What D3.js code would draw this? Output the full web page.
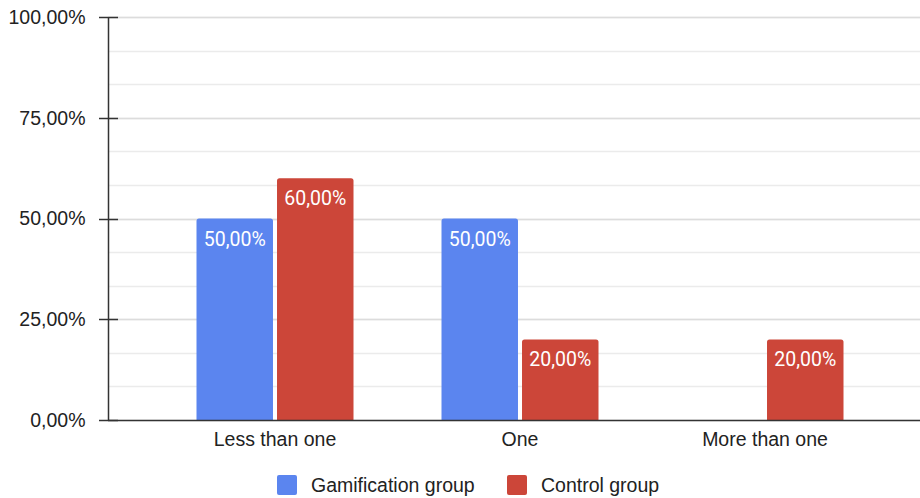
<!DOCTYPE html>
<html>
<head>
<meta charset="utf-8">
<script src="https://cdn.jsdelivr.net/npm/d3@7"></script>
<style>
  html, body { margin: 0; padding: 0; background: #fff; }
  svg { display: block; }
</style>
</head>
<body>
<svg id="chart" width="920" height="498"></svg>
<script>
const categories = ["Less than one", "One", "More than one"];
const seriesNames = ["Gamification group", "Control group"];
const gamification = [50, 50, 0];
const control = [60, 20, 20];
const yTicks = [0, 25, 50, 75, 100];
const colors = ["#5b85ef", "#cc4639"];

const svg = d3.select("#chart");
const axisFont = "'Liberation Sans', Arial, sans-serif";
const labelFont = "Roboto, 'Open Sans', sans-serif";
const fs = 19.5;

const x0 = d3.scaleBand().domain(categories).range([152.5, 887.5]).padding(0);
const groupInner = 157;
const x1 = d3.scaleBand().domain(seriesNames).range([0, groupInner]).paddingInner(0.05);
const y = d3.scaleLinear().domain([0, 100]).range([420, 17]);

const fmt = v => d3.format(".2f")(v).replace(".", ",") + "%";

// Gridlines: minor every third of a major step, major at each tick
const minor = d3.range(0, 100.01, 25 / 3);
svg.append("g").selectAll("line").data(minor).join("line")
  .attr("x1", 108).attr("x2", 920)
  .attr("y1", d => Math.round(y(d)) + 0.5).attr("y2", d => Math.round(y(d)) + 0.5)
  .attr("stroke", "#ebebeb").attr("stroke-width", 1.5);
svg.append("g").selectAll("line").data(yTicks.filter(d => d > 0)).join("line")
  .attr("x1", 108).attr("x2", 920)
  .attr("y1", d => Math.round(y(d)) + 0.5).attr("y2", d => Math.round(y(d)) + 0.5)
  .attr("stroke", "#dcdcdc").attr("stroke-width", 1.5);

// Bars
const rows = categories.map((c, i) => ({ c, vals: [gamification[i], control[i]] }));
const groups = svg.append("g").selectAll("g").data(rows).join("g")
  .attr("transform", d => `translate(${x0(d.c) + (x0.bandwidth() - groupInner) / 2},0)`);

const cells = groups.selectAll("g").data(d => d.vals.map((v, k) => ({ v, k, s: seriesNames[k] })).filter(e => e.v > 0))
  .join("g");

cells.append("path")
  .attr("fill", e => colors[e.k])
  .attr("d", e => {
    const x = x1(e.s), w = x1.bandwidth(), top = y(e.v), bot = y(0), r = 2.5;
    return `M${x},${bot}V${top + r}Q${x},${top} ${x + r},${top}H${x + w - r}Q${x + w},${top} ${x + w},${top + r}V${bot}Z`;
  });

cells.append("text")
  .attr("x", e => x1(e.s) + x1.bandwidth() / 2)
  .attr("y", e => y(e.v) + 27)
  .attr("text-anchor", "middle")
  .attr("fill", "#fff")
  .attr("font-family", labelFont)
  .attr("font-size", 19.5)
  .text(e => fmt(e.v));

// Y axis
const yAxis = d3.axisLeft(y).tickValues(yTicks).tickFormat(fmt).tickSize(0).tickPadding(23);
const ya = svg.append("g").attr("transform", "translate(108.5,0)").call(yAxis);
ya.select(".domain").remove();
ya.selectAll("text").attr("font-family", axisFont).attr("font-size", fs).attr("fill", "#222");
svg.append("line").attr("x1", 108.5).attr("x2", 108.5).attr("y1", y(100)).attr("y2", y(0))
  .attr("stroke", "#333").attr("stroke-width", 1.5);
svg.append("g").selectAll("line").data(yTicks).join("line")
  .attr("x1", 99).attr("x2", 118)
  .attr("y1", d => Math.round(y(d)) + 0.5).attr("y2", d => Math.round(y(d)) + 0.5)
  .attr("stroke", "#333").attr("stroke-width", 1.5);

// Baseline
svg.append("line").attr("x1", 108).attr("x2", 920).attr("y1", 420.5).attr("y2", 420.5)
  .attr("stroke", "#333").attr("stroke-width", 1.5);

// X axis labels
const xAxis = d3.axisBottom(x0).tickSize(0).tickPadding(12);
const xa = svg.append("g").attr("transform", "translate(0,420)").call(xAxis);
xa.select(".domain").remove();
xa.selectAll("text").attr("font-family", axisFont).attr("font-size", fs).attr("fill", "#222");

// Legend
const legendX = [277, 507];
const leg = svg.append("g").selectAll("g").data(seriesNames).join("g")
  .attr("transform", (d, i) => `translate(${legendX[i]},475)`);
leg.append("rect").attr("width", 20).attr("height", 20).attr("rx", 2)
  .attr("fill", (d, i) => colors[i]);
leg.append("text").attr("x", 34).attr("y", 17)
  .attr("font-family", axisFont).attr("font-size", fs).attr("fill", "#222")
  .text(d => d);
</script>
</body>
</html>
